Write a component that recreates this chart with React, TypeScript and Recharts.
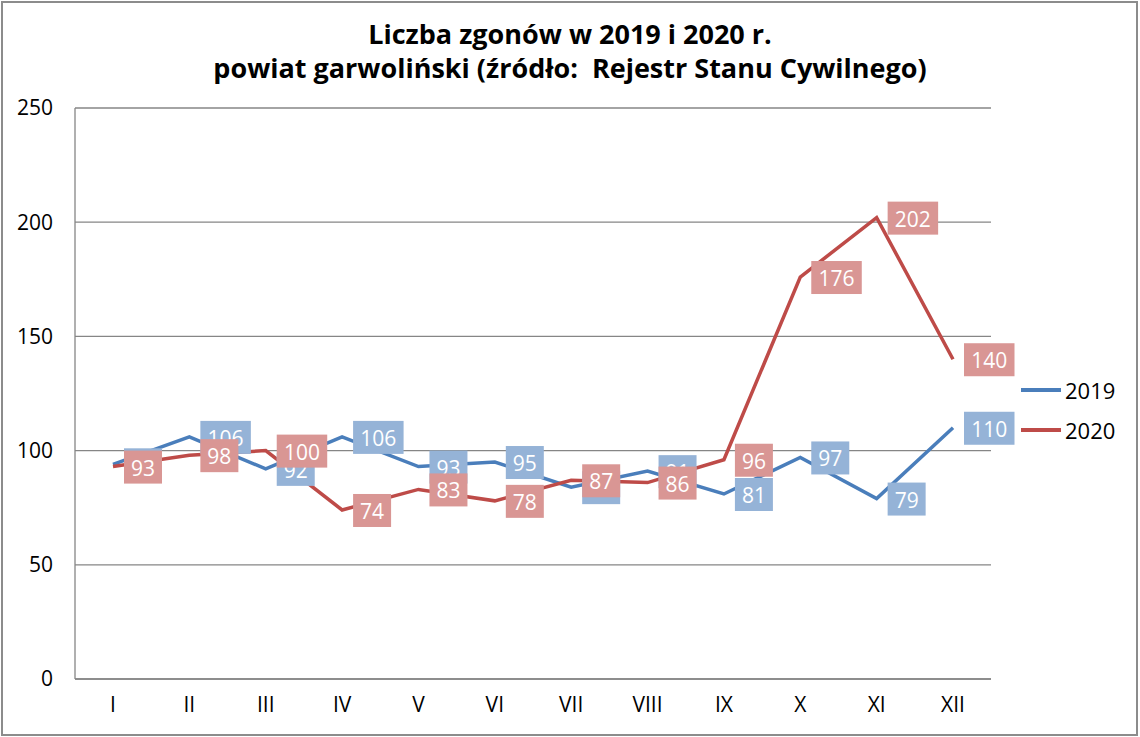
import React from "react"
import {
  LineChart,
  Line,
  XAxis,
  YAxis,
  CartesianGrid,
  Legend
} from "recharts"

// Data
const months = ["I", "II", "III", "IV", "V", "VI", "VII", "VIII", "IX", "X", "XI", "XII"]
const deaths2019 = [94, 106, 92, 106, 93, 95, 84, 91, 81, 97, 79, 110]
const deaths2020 = [93, 98, 100, 74, 83, 78, 87, 86, 96, 176, 202, 140]
const yTicks = [0, 50, 100, 150, 200, 250]

const chartData = months.map((m, i) => ({
  month: m,
  y2019: deaths2019[i],
  y2020: deaths2020[i],
}))

// Excel-like colors
const blueLine = "#4A7EBB"
const redLine = "#BE4B48"
const blueBox = "#95B3D7"
const redBox = "#D99694"
const gridColor = "#868686"
const font = "'Open Sans', sans-serif"

const DataLabel = (props: any) => {
  const { x, y, value, fill } = props
  if (x == null || y == null) return null
  const w = String(value).length * 12.5 + 13
  const left = x + 11
  return (
    <g>
      <rect x={left} y={y - 16} width={w} height={33} fill={fill} />
      <text
        x={left + w / 2}
        y={y + 1}
        textAnchor="middle"
        dominantBaseline="central"
        fill="#fff"
        fontSize={21}
        fontFamily={font}
      >
        {value}
      </text>
    </g>
  )
}

const LegendBox = () => (
  <div style={{ fontFamily: font, fontSize: 22, color: "#000" }}>
    {[
      { name: "2019", color: blueLine },
      { name: "2020", color: redLine },
    ].map((s) => (
      <div key={s.name} style={{ display: "flex", alignItems: "center", height: 40 }}>
        <span style={{ display: "inline-block", width: 40, height: 4, background: s.color, marginRight: 4 }} />
        <span>{s.name}</span>
      </div>
    ))}
  </div>
)

export default function App() {
  return (
    <div style={{ position: "absolute", left: 0, top: 0, width: 1140, height: 737, background: "#fff" }}>
      <div
        style={{
          position: "absolute",
          left: 0,
          top: 17,
          width: 1140,
          textAlign: "center",
          fontFamily: font,
          fontWeight: "bold",
          fontSize: 27,
          lineHeight: "34px",
          color: "#000",
        }}
      >
        Liczba zgonów w 2019 i 2020 r.
        <br />
        powiat garwoliński (źródło:&nbsp; Rejestr Stanu Cywilnego)
      </div>
      <div style={{ position: "absolute", left: 0, top: 0 }}>
        <LineChart
          width={1140}
          height={737}
          data={chartData}
          margin={{ top: 108, right: 149, bottom: 0, left: 0 }}
        >
          <CartesianGrid vertical={false} stroke={gridColor} strokeWidth={1.3} />
          <XAxis
            dataKey="month"
            height={58}
            padding={{ left: 38, right: 38 }}
            tickLine={false}
            tickSize={0}
            tickMargin={18}
            axisLine={{ stroke: gridColor, strokeWidth: 1.3 }}
            tick={{ fill: "#000", fontSize: 21, fontFamily: font }}
          />
          <YAxis
            width={75}
            domain={[0, 250]}
            ticks={yTicks}
            tickLine={false}
            tickSize={0}
            tickMargin={22}
            axisLine={{ stroke: gridColor, strokeWidth: 1.3 }}
            tick={{ fill: "#000", fontSize: 21, fontFamily: font }}
          />
          <Line
            dataKey="y2019"
            stroke={blueLine}
            strokeWidth={3.5}
            dot={false}
            activeDot={false}
            isAnimationActive={false}
          />
          <Line
            dataKey="y2020"
            stroke={redLine}
            strokeWidth={3.5}
            dot={false}
            activeDot={false}
            isAnimationActive={false}
          />
          {/* labels drawn above both lines, like Excel */}
          <Line
            dataKey="y2019"
            stroke="none"
            dot={false}
            activeDot={false}
            legendType="none"
            isAnimationActive={false}
            label={(p: any) => <DataLabel key={`b${p.index}`} {...p} fill={blueBox} />}
          />
          <Line
            dataKey="y2020"
            stroke="none"
            dot={false}
            activeDot={false}
            legendType="none"
            isAnimationActive={false}
            label={(p: any) => <DataLabel key={`r${p.index}`} {...p} fill={redBox} />}
          />
          <Legend
            layout="horizontal"
            verticalAlign="middle"
            align="center"
            content={() => <LegendBox />}
            wrapperStyle={{ left: 1021, top: 370, width: 115 }}
          />
        </LineChart>
      </div>
      <div
        style={{
          position: "absolute",
          left: 1,
          top: 1,
          width: 1137,
          height: 735,
          border: "2px solid #8c8c8c",
          boxSizing: "border-box",
          pointerEvents: "none",
        }}
      />
    </div>
  )
}
